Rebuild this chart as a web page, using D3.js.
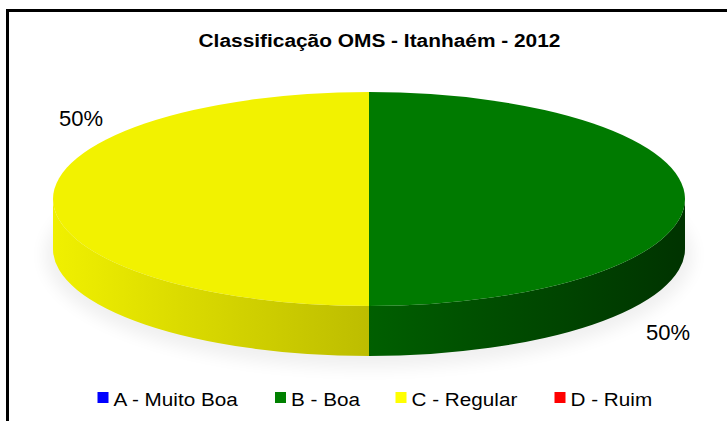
<!DOCTYPE html>
<html>
<head>
<meta charset="utf-8">
<script src="https://cdn.jsdelivr.net/npm/d3@7"></script>
<style>
  html, body { margin: 0; padding: 0; background: #fff; }
  svg { display: block; }
  text { font-family: "Liberation Sans", Arial, sans-serif; fill: #000; }
</style>
</head>
<body>
<svg id="chart" width="727" height="421"></svg>
<script>
// Classificação OMS das praias – Itanhaém, 2012
const title = "Classificação OMS - Itanhaém - 2012";
const categories = ["A - Muito Boa", "B - Boa", "C - Regular", "D - Ruim"];
const shares = [0, 50, 50, 0];           // percentual por classe
const colors = ["#0000ff", "#008000", "#ffff00", "#ff0000"];

const W = 727, H = 421;
const svg = d3.select("#chart");
const defs = svg.append("defs");

// frame
svg.append("rect")
  .attr("x", 7.5).attr("y", 10.5)
  .attr("width", W + 10).attr("height", H + 10)
  .attr("fill", "#fff").attr("stroke", "#000").attr("stroke-width", 3);

// title
svg.append("text")
  .attr("transform", "translate(379.5,47) scale(1.16,1)")
  .attr("text-anchor", "middle")
  .attr("font-size", 18).attr("font-weight", "bold")
  .text(title);

// 3D pie geometry
const cx = 369, cy = 199, rx = 316, ry = 107, depth = 50;
const pt = (a, dy = 0) => [cx + rx * Math.sin(a), cy - ry * Math.cos(a) + dy];

const data = categories.map((c, i) => ({ cat: c, value: shares[i], color: colors[i] }));
const pie = d3.pie().sort(null).value(d => d.value);
const arcs = pie(data).filter(d => d.value > 0);
const total = d3.sum(shares);

// soft shadow under the disc
const blur = defs.append("filter").attr("id", "shadowBlur")
  .attr("x", "-20%").attr("y", "-50%").attr("width", "140%").attr("height", "200%");
blur.append("feGaussianBlur").attr("stdDeviation", 8);
svg.append("ellipse")
  .attr("cx", cx).attr("cy", cy + depth + 6)
  .attr("rx", rx + 8).attr("ry", ry + 6)
  .attr("fill", "#000").attr("opacity", 0.06)
  .attr("filter", "url(#shadowBlur)");

// lighting along the side wall: brighter on the left, darker to the right
const light = d3.scaleLinear().domain([0, 0.5, 1]).range([0.94, 0.74, 0.4]);
const shade = (c, f) => { const k = d3.rgb(c); return d3.rgb(k.r * f, k.g * f, k.b * f); };

arcs.forEach((d, i) => {
  const g = defs.append("linearGradient")
    .attr("id", "side" + i)
    .attr("gradientUnits", "userSpaceOnUse")
    .attr("x1", cx - rx).attr("x2", cx + rx).attr("y1", 0).attr("y2", 0);
  d3.range(0, 1.0001, 0.1).forEach(t => {
    g.append("stop").attr("offset", t).attr("stop-color", shade(d.data.color, light(t)));
  });
});

// side walls (front half only)
const sides = svg.append("g");
arcs.forEach((d, i) => {
  const b0 = Math.max(d.startAngle, Math.PI / 2);
  const b1 = Math.min(d.endAngle, 3 * Math.PI / 2);
  if (b1 <= b0) return;
  const p0 = pt(b0), p1 = pt(b1), q0 = pt(b0, depth), q1 = pt(b1, depth);
  const large = (b1 - b0) > Math.PI ? 1 : 0;
  const path = `M${p0}A${rx},${ry} 0 ${large} 1 ${p1}L${q1}A${rx},${ry} 0 ${large} 0 ${q0}Z`;
  sides.append("path").attr("d", path).attr("fill", `url(#side${i})`);
});

// top faces
const tops = svg.append("g");
arcs.forEach(d => {
  const p0 = pt(d.startAngle), p1 = pt(d.endAngle);
  const large = (d.endAngle - d.startAngle) > Math.PI ? 1 : 0;
  tops.append("path")
    .attr("d", `M${cx},${cy}L${p0}A${rx},${ry} 0 ${large} 1 ${p1}Z`)
    .attr("fill", shade(d.data.color, 0.95));
});

// percentage labels placed outside the disc
const labelPos = { "B - Boa": [668, 340], "C - Regular": [81, 126] };
const fmt = d3.format(".0%");
arcs.forEach(d => {
  const p = labelPos[d.data.cat];
  svg.append("text")
    .attr("x", p[0]).attr("y", p[1])
    .attr("text-anchor", "middle")
    .attr("font-size", 22)
    .text(fmt(d.value / total));
});

// legend
const legendX = [97.5, 275, 395.5, 554.5];
const legend = svg.append("g");
categories.forEach((c, i) => {
  const g = legend.append("g").attr("transform", `translate(${legendX[i]},0)`);
  g.append("rect").attr("x", 0).attr("y", 392).attr("width", 11).attr("height", 11)
    .attr("fill", colors[i]);
  g.append("text")
    .attr("transform", "translate(16,406) scale(1.09,1)")
    .attr("font-size", 19)
    .text(c);
});
</script>
</body>
</html>
